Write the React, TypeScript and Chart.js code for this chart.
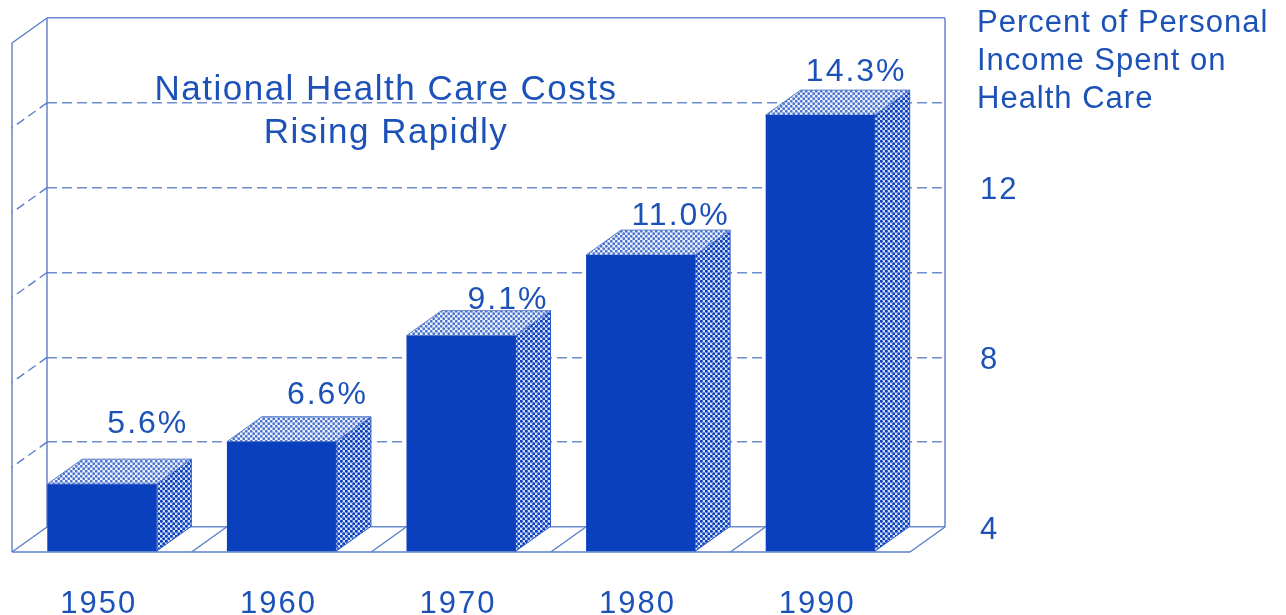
import React, { useEffect, useRef } from "react";
import { Chart, registerables } from "chart.js";

Chart.register(...registerables);

const years = ["1950", "1960", "1970", "1980", "1990"];
const percents = [5.6, 6.6, 9.1, 11.0, 14.3];
const shownTicks = [4, 8, 12];
const titleLines = ["National Health Care Costs", "Rising Rapidly"];
const headerLines = ["Percent of Personal", "Income Spent on", "Health Care"];

const BLUE = "#0a40bd";
const TEXT = "#1c52b8";
const LINE = "#5a7ecb";
const GRID = "#6e8dd0";
const DEPTH_X = 35;
const DEPTH_Y = 25;
const DASH = [10, 5];
const FONT = "'Liberation Sans', Arial, sans-serif";
// hand placement of the value labels relative to each bar, as in the original
const labelShiftX = [11, 11, 12, 5, 1];
const labelLift = [37, 24, 13, 16, 20];

function halftone(ctx: CanvasRenderingContext2D, bg: string, dot: string, r: number) {
  const c = document.createElement("canvas");
  c.width = 5;
  c.height = 5;
  const g = c.getContext("2d")!;
  g.fillStyle = bg;
  g.fillRect(0, 0, 5, 5);
  g.fillStyle = dot;
  for (const [x, y] of [[1.25, 1.25], [3.75, 3.75]]) {
    g.beginPath();
    g.arc(x, y, r, 0, Math.PI * 2);
    g.fill();
  }
  return ctx.createPattern(c, "repeat")!;
}

function line(ctx: CanvasRenderingContext2D, x0: number, y0: number, x1: number, y1: number, dash: number[] = []) {
  ctx.setLineDash(dash);
  ctx.beginPath();
  ctx.moveTo(x0, y0);
  ctx.lineTo(x1, y1);
  ctx.stroke();
  ctx.setLineDash([]);
}

function poly(ctx: CanvasRenderingContext2D, pts: number[][], fill: CanvasPattern | string, edge: string) {
  ctx.beginPath();
  pts.forEach(([x, y], i) => (i ? ctx.lineTo(x, y) : ctx.moveTo(x, y)));
  ctx.closePath();
  ctx.fillStyle = fill;
  ctx.fill();
  ctx.strokeStyle = edge;
  ctx.lineWidth = 1;
  ctx.stroke();
}

const box3d = {
  id: "box3d",
  beforeDraw(chart: any) {
    (chart.ctx as any).letterSpacing = "2px";
  },
  beforeDatasetsDraw(chart: any) {
    const { ctx, chartArea: a, scales } = chart;
    const x = scales.x;
    const y = scales.y;
    ctx.save();
    ctx.strokeStyle = LINE;
    ctx.lineWidth = 1.4;
    // walls
    line(ctx, a.left, a.top, a.left, a.bottom);
    line(ctx, a.right, a.top, a.right, a.bottom);
    line(ctx, a.left - DEPTH_X, a.top + DEPTH_Y, a.left - DEPTH_X, a.bottom + DEPTH_Y);
    line(ctx, a.left - DEPTH_X, a.bottom + DEPTH_Y, a.right - DEPTH_X, a.bottom + DEPTH_Y);
    // side wall gridlines, continuing the y scale forward
    y.ticks.forEach((t: any) => {
      const p = y.getPixelForValue(t.value);
      const solid = t.value === y.min || t.value === y.max;
      line(ctx, a.left, p, a.left - DEPTH_X, p + DEPTH_Y, solid ? [] : [9, 5]);
    });
    // floor separators at category boundaries
    years.forEach((_, i) => {
      const b = x.getPixelForValue(i) + (a.right - a.left) / years.length / 2;
      line(ctx, b, a.bottom, b - DEPTH_X, a.bottom + DEPTH_Y);
    });
    // side + top faces of the bars
    const side = halftone(ctx, "#d4def5", "#0a40bd", 1.55);
    const top = halftone(ctx, "#eef2fb", "#4a72cf", 1.4);
    chart.getDatasetMeta(0).data.forEach((bar: any) => {
      const l = bar.x - bar.width / 2;
      const r = bar.x + bar.width / 2;
      poly(ctx, [[r - DEPTH_X, bar.y + DEPTH_Y], [r, bar.y], [r, bar.base], [r - DEPTH_X, bar.base + DEPTH_Y]], side, "#2a58c4");
      poly(ctx, [[l - DEPTH_X, bar.y + DEPTH_Y], [l, bar.y], [r, bar.y], [r - DEPTH_X, bar.y + DEPTH_Y]], top, LINE);
    });
    ctx.restore();
    // front faces are the library's own bars, moved onto the front plane
    ctx.save();
    ctx.translate(-DEPTH_X, DEPTH_Y);
  },
  afterDatasetsDraw(chart: any) {
    const { ctx } = chart;
    ctx.restore();
    ctx.save();
    ctx.fillStyle = TEXT;
    ctx.textBaseline = "middle";
    // value labels
    ctx.textAlign = "center";
    ctx.font = `32px ${FONT}`;
    ctx.letterSpacing = "2px";
    chart.getDatasetMeta(0).data.forEach((bar: any, i: number) => {
      ctx.fillText(`${percents[i].toFixed(1)}%`, bar.x + labelShiftX[i], bar.y - labelLift[i] + 2);
    });
    // title
    ctx.font = `35px ${FONT}`;
    ctx.letterSpacing = "1.5px";
    titleLines.forEach((t, i) => ctx.fillText(t, 386, 90 + i * 43));
    // right-hand header
    ctx.textAlign = "left";
    ctx.font = `31px ${FONT}`;
    ctx.letterSpacing = "1px";
    headerLines.forEach((t, i) => ctx.fillText(t, 977, 23 + i * 38));
    ctx.restore();
  },
};

export default function App() {
  const ref = useRef<HTMLCanvasElement>(null);
  useEffect(() => {
    document.body.style.margin = "0";
    const chart = new Chart(ref.current!, {
      type: "bar",
      data: {
        labels: years,
        datasets: [
          {
            data: percents,
            base: 4,
            backgroundColor: BLUE,
            borderWidth: 0,
            barPercentage: 0.607,
            categoryPercentage: 1,
            clip: false,
          } as any,
        ],
      },
      plugins: [box3d],
      options: {
        animation: false,
        responsive: false,
        layout: { padding: { left: 47, top: 18, right: 0, bottom: 0 } },
        plugins: { legend: { display: false }, tooltip: { enabled: false } },
        scales: {
          x: {
            grid: { display: false },
            border: { display: false },
            ticks: {
              color: TEXT,
              font: { family: FONT, size: 31 },
              padding: 51,
              labelOffset: -38,
              maxRotation: 0,
            },
            afterFit: (s: any) => {
              s.height = 88;
              s.paddingLeft = 0;
              s.paddingRight = 0;
            },
          },
          y: {
            position: "right",
            min: 4,
            max: 16,
            grid: { color: GRID, lineWidth: 1.4, drawTicks: false },
            border: {
              display: false,
              dash: (c: any) => (c.tick && (c.tick.value === 4 || c.tick.value === 16) ? [] : DASH),
            },
            ticks: {
              stepSize: 2,
              autoSkip: false,
              color: TEXT,
              font: { family: FONT, size: 31 },
              padding: 35,
              labelOffset: 3,
              callback: (v: any) => (shownTicks.includes(Number(v)) ? String(v) : ""),
            },
            afterFit: (s: any) => {
              s.width = 341;
              s.paddingTop = 0;
              s.paddingBottom = 0;
            },
          },
        },
      },
    });
    return () => chart.destroy();
  }, []);
  return (
    <div style={{ position: "absolute", left: 0, top: 0, background: "#fff" }}>
      <canvas ref={ref} width={1286} height={615} style={{ display: "block" }} />
    </div>
  );
}
